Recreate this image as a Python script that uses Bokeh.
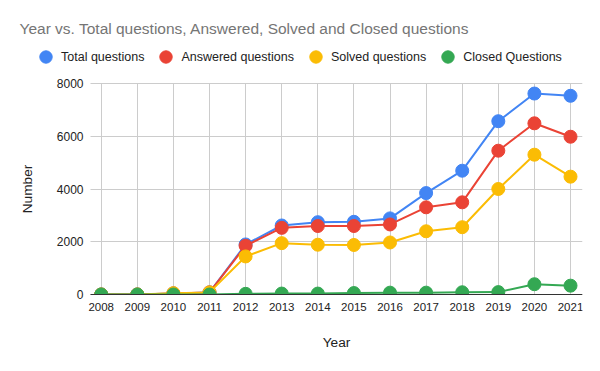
from bokeh.plotting import figure
from bokeh.models import Legend, LegendItem, FixedTicker, Range1d, Label
from bokeh.embed import file_html
from bokeh.resources import INLINE

years = [2008, 2009, 2010, 2011, 2012, 2013, 2014, 2015, 2016, 2017, 2018, 2019, 2020, 2021]
total_questions = [0, 0, 40, 80, 1900, 2620, 2745, 2760, 2890, 3850, 4700, 6580, 7630, 7545]
answered_questions = [0, 0, 40, 80, 1850, 2530, 2600, 2600, 2660, 3310, 3500, 5460, 6500, 5990]
solved_questions = [0, 0, 50, 80, 1445, 1950, 1890, 1880, 1975, 2400, 2555, 4006, 5308, 4474]
closed_questions = [0, 0, 0, 0, 25, 35, 35, 55, 70, 70, 85, 90, 390, 335]
y_ticks = [0, 2000, 4000, 6000, 8000]
title_text = "Year vs. Total questions, Answered, Solved and Closed questions"

series = [
    ("Total questions", total_questions, "#4285F4"),
    ("Answered questions", answered_questions, "#EA4335"),
    ("Solved questions", solved_questions, "#FBBC04"),
    ("Closed Questions", closed_questions, "#34A853"),
]

FONT = "Liberation Sans"

# plotting-area extent (data) and full frame extent
X_LO, X_HI = 2007.704, 2021.332
X_START = 2005.4598
Y_MAX = 8000
Y_START, Y_END = -2924, 11163

p = figure(width=600, height=371, output_backend="svg", toolbar_location=None,
           x_range=Range1d(X_START, X_HI), y_range=Range1d(Y_START, Y_END),
           min_border_left=9, min_border_right=18, min_border_top=0, min_border_bottom=0)
p.outline_line_color = None
p.background_fill_color = "white"
p.title.visible = False

# grid
grid_props = p.ygrid[0].properties()
if "cross_bounds" in grid_props:
    p.ygrid.grid_line_color = "#cccccc"
    p.ygrid.ticker = FixedTicker(ticks=y_ticks)
    p.ygrid.cross_bounds = (X_LO, X_HI)
    p.xgrid.grid_line_color = "#cccccc"
    p.xgrid.ticker = FixedTicker(ticks=years)
    p.xgrid.cross_bounds = (0, Y_MAX)
else:
    p.ygrid.grid_line_color = None
    p.xgrid.grid_line_color = None
    p.segment(x0=[X_LO] * len(y_ticks), x1=[X_HI] * len(y_ticks), y0=y_ticks, y1=y_ticks,
              line_color="#cccccc", line_width=1)
    p.segment(x0=years, x1=years, y0=[0] * len(years), y1=[Y_MAX] * len(years),
              line_color="#cccccc", line_width=1)

items = []
for name, vals, col in series:
    p.line(years, vals, line_color=col, line_width=2)
    r = p.scatter(years, vals, size=13, fill_color=col, line_color=col)
    items.append(LegendItem(label=name, renderers=[r]))

# the plotting area ends at the zero line: mask what lies below it
p.quad(left=[X_LO], right=[X_HI], bottom=[Y_START], top=[0],
       fill_color="white", line_color=None)

legend = Legend(items=items, orientation="horizontal", location=(21, 299),
                label_text_font=FONT, label_text_font_size="12.5px", label_text_color="#222222",
                glyph_width=31, glyph_height=31, label_standoff=0, spacing=6,
                border_line_color=None, background_fill_alpha=0, padding=0, margin=0)
p.add_layout(legend, "center")

title = Label(x=10, y=343, x_units="screen", y_units="screen", text=title_text,
              text_font=FONT, text_font_size="15.5px", text_color="#757575",
              text_align="left", text_baseline="alphabetic")
p.add_layout(title)

# axes
p.xaxis.ticker = FixedTicker(ticks=years)
p.yaxis.ticker = FixedTicker(ticks=y_ticks)
for ax in (p.xaxis[0], p.yaxis[0]):
    ax.major_tick_line_color = None
    ax.minor_tick_line_color = None
    ax.major_label_text_font = FONT
    ax.major_label_text_color = "#222222"
    ax.axis_label_text_font = FONT
    ax.axis_label_text_font_size = "13.7px"
    ax.axis_label_text_font_style = "normal"
    ax.axis_label_text_color = "#222222"
p.xaxis.major_label_text_font_size = "11.5px"
p.yaxis.major_label_text_font_size = "12px"
p.yaxis.axis_line_color = None
p.yaxis.fixed_location = X_LO
p.xaxis.fixed_location = 0
p.yaxis.bounds = (0, Y_MAX)
p.xaxis.bounds = (X_LO, X_HI)
p.xaxis.axis_line_color = "#333333"
p.xaxis.axis_line_width = 1
p.xaxis.major_label_standoff = 3
p.yaxis.major_label_standoff = 1
p.xaxis.axis_label = "Year"
p.yaxis.axis_label = "Number"
p.xaxis.axis_label_standoff = 20
p.yaxis.axis_label_standoff = 19

open("out.html", "w").write(file_html(p, INLINE))
